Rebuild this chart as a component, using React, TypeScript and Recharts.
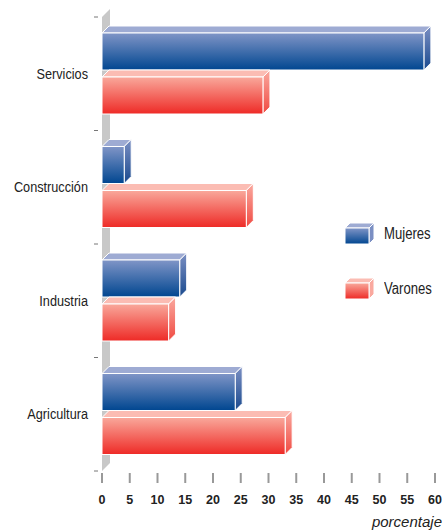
import React from 'react';
import { BarChart, Bar, XAxis, YAxis, CartesianGrid } from 'recharts';

const categories = ['Servicios', 'Construcción', 'Industria', 'Agricultura'];
const mujeres = [58, 4, 14, 24];
const varones = [29, 26, 12, 33];
const xTicks = [0, 5, 10, 15, 20, 25, 30, 35, 40, 45, 50, 55, 60];
const seriesNames = ['Mujeres', 'Varones'];

const W = 442;
const H = 531;
const MARGIN = { top: 17, right: 7, left: 0, bottom: 0 };
const Y_AXIS_W = 102;
const X_AXIS_H = 60;
const DEPTH = 7;
const SANS = '"Liberation Sans", Arial, sans-serif';
const NARROW_SCALE = 0.82;

const palette: Record<string, { light: string; dark: string; top: string; sideLight: string; sideDark: string }> = {
  Mujeres: { light: '#8095c7', dark: '#004690', top: '#9eabd3', sideLight: '#7b8fc3', sideDark: '#1a4a8e' },
  Varones: { light: '#f9a89b', dark: '#ee2a26', top: '#fbbcb3', sideLight: '#faa99f', sideDark: '#f04a42' },
};

const data = categories.map((name, i) => ({ name, Mujeres: mujeres[i], Varones: varones[i] }));

const bandSize = (H - MARGIN.top - X_AXIS_H) / categories.length;

function Box3D(props: any) {
  const { x, y, width, height, series, index } = props;
  if (!width || width <= 0) return null;
  const c = palette[series];
  const d = DEPTH;
  const id = `g-${series}-${index}`;
  return (
    <g>
      <defs>
        <linearGradient id={`${id}-f`} x1="0" y1="0" x2="0" y2="1">
          <stop offset="0%" stopColor={c.light} />
          <stop offset="100%" stopColor={c.dark} />
        </linearGradient>
        <linearGradient id={`${id}-s`} x1="0" y1="0" x2="0" y2="1">
          <stop offset="0%" stopColor={c.sideLight} />
          <stop offset="100%" stopColor={c.sideDark} />
        </linearGradient>
      </defs>
      <polygon
        points={`${x},${y} ${x + d},${y - d} ${x + width + d},${y - d} ${x + width},${y}`}
        fill={c.top}
        stroke="#fff"
        strokeWidth={1}
      />
      <polygon
        points={`${x + width},${y} ${x + width + d},${y - d} ${x + width + d},${y + height - d} ${x + width},${y + height}`}
        fill={`url(#${id}-s)`}
        stroke="#fff"
        strokeWidth={1}
      />
      <rect x={x} y={y} width={width} height={height} fill={`url(#${id}-f)`} stroke="#fff" strokeWidth={1} />
    </g>
  );
}

function Wall(props: any) {
  const { x1, y1, y2 } = props;
  const d = DEPTH + 1;
  return (
    <polygon
      key={props.key}
      points={`${x1},${y1} ${x1 + d},${y1 - d} ${x1 + d},${y2 - d} ${x1},${y2}`}
      fill="#c8c8c8"
    />
  );
}

function CategoryTick(props: any) {
  const { x, y, payload, index } = props;
  const half = bandSize / 2;
  const last = index === categories.length - 1;
  return (
    <g>
      <text
        transform={`translate(${x - 14},${y + 5}) scale(${NARROW_SCALE},1)`}
        textAnchor="end"
        fontFamily={SANS}
        fontSize={15.5}
        fill="#222"
      >
        {payload.value}
      </text>
      <line x1={x - 8} x2={x - 4} y1={y - half} y2={y - half} stroke="#777" strokeWidth={1} />
      {last && <line x1={x - 8} x2={x - 4} y1={y + half} y2={y + half} stroke="#777" strokeWidth={1} />}
    </g>
  );
}

function ValueTick(props: any) {
  const { x, y, payload } = props;
  return (
    <g>
      <line x1={x} x2={x} y1={y + 2} y2={y + 12} stroke="#999" strokeWidth={2} />
      <text x={x} y={y + 33} textAnchor="middle" fontFamily={SANS} fontWeight="bold" fontSize={12.5} fill="#222">
        {payload.value}
      </text>
    </g>
  );
}

function LegendBox({ series }: { series: string }) {
  const c = palette[series];
  const d = 5;
  const w = 24;
  const h = 16;
  const x = 1;
  const y = d + 1;
  return (
    <svg width={w + d + 2} height={h + d + 2} style={{ display: 'block' }}>
      <defs>
        <linearGradient id={`lg-${series}`} x1="0" y1="0" x2="0" y2="1">
          <stop offset="0%" stopColor={c.light} />
          <stop offset="100%" stopColor={c.dark} />
        </linearGradient>
      </defs>
      <polygon points={`${x},${y} ${x + d},${y - d} ${x + w + d},${y - d} ${x + w},${y}`} fill={c.top} stroke="#fff" />
      <polygon points={`${x + w},${y} ${x + w + d},${y - d} ${x + w + d},${y + h - d} ${x + w},${y + h}`} fill={c.sideLight} stroke="#fff" />
      <rect x={x} y={y} width={w} height={h} fill={`url(#lg-${series})`} stroke="#fff" />
    </svg>
  );
}

function LegendBlock() {
  return (
    <div style={{ position: 'absolute', left: 344, top: 206 }}>
      {seriesNames.map((s) => (
        <div key={s} style={{ display: 'flex', alignItems: 'center', height: 55 }}>
          <LegendBox series={s} />
          <span
            style={{
              marginLeft: 9,
              fontFamily: SANS,
              fontSize: 16,
              color: '#222',
              display: 'inline-block',
              transform: `scaleX(${NARROW_SCALE})`,
              transformOrigin: 'left center',
            }}
          >
            {s}
          </span>
        </div>
      ))}
    </div>
  );
}

export default function App() {
  return (
    <div style={{ position: 'absolute', left: 0, top: 0, width: W, height: H, background: '#fff', overflow: 'hidden' }}>
      <BarChart
        width={W}
        height={H}
        data={data}
        layout="vertical"
        margin={MARGIN}
        barSize={37}
        barGap={7}
      >
        <CartesianGrid
          horizontal={false}
          vertical={(p: any) => <Wall {...p} />}
          verticalCoordinatesGenerator={({ offset }: any) => [offset.left]}
        />
        <XAxis
          type="number"
          domain={[0, 60]}
          ticks={xTicks}
          interval={0}
          axisLine={false}
          tickLine={false}
          tickSize={0}
          tickMargin={0}
          height={X_AXIS_H}
          tick={<ValueTick />}
        />
        <YAxis
          type="category"
          dataKey="name"
          width={Y_AXIS_W}
          axisLine={false}
          tickLine={false}
          tickSize={0}
          tickMargin={0}
          interval={0}
          tick={<CategoryTick />}
        />
        {seriesNames.map((s) => (
          <Bar
            key={s}
            dataKey={s}
            isAnimationActive={false}
            shape={(p: any) => <Box3D {...p} series={s} />}
          />
        ))}
      </BarChart>
      <LegendBlock />
      <div
        style={{
          position: 'absolute',
          right: 0,
          top: 513,
          fontFamily: SANS,
          fontStyle: 'italic',
          fontSize: 15,
          color: '#222',
        }}
      >
        porcentaje
      </div>
    </div>
  );
}
